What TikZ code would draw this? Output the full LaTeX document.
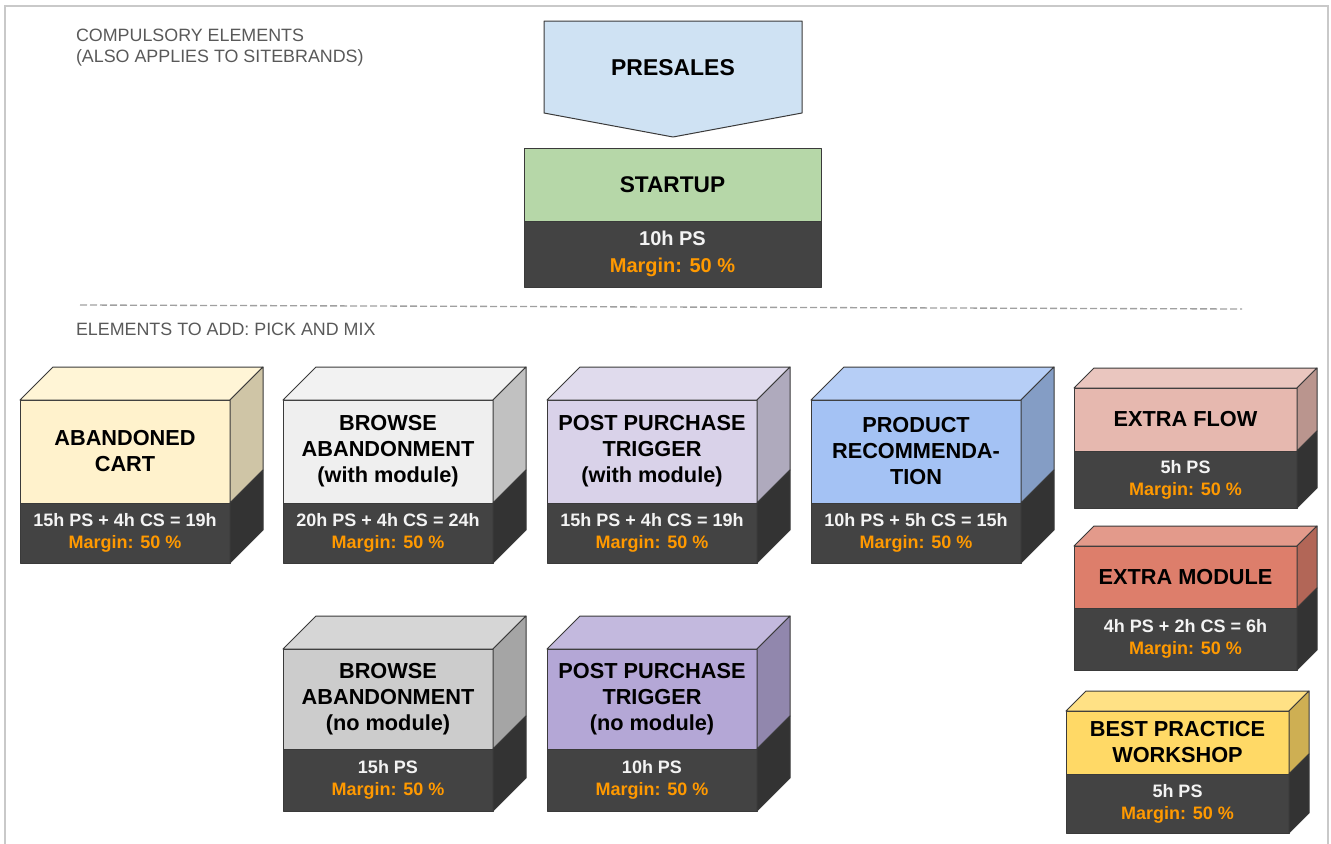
\documentclass[tikz,border=0pt]{standalone}
\usepackage{fontspec}
\setmainfont{Liberation Sans}
\usetikzlibrary{calc}

\definecolor{framegray}{HTML}{C9C9C9}
\definecolor{dashgray}{HTML}{A0A0A0}
\definecolor{headgray}{HTML}{595959}
\definecolor{edgegray}{HTML}{3A3A3A}
\definecolor{costdark}{HTML}{434343}
\definecolor{costside}{HTML}{333333}
\definecolor{costtext}{HTML}{F3F3F3}
\definecolor{marginorange}{HTML}{FF9900}
\definecolor{presalesblue}{HTML}{CFE2F3}
\definecolor{startupgreen}{HTML}{B6D7A8}
% cube faces: front, top, side
\definecolor{cartfront}{HTML}{FFF2CC}
\definecolor{carttop}{HTML}{FFF5D6}
\definecolor{cartside}{HTML}{CFC5A6}
\definecolor{browsemodfront}{HTML}{EFEFEF}
\definecolor{browsemodtop}{HTML}{F2F2F2}
\definecolor{browsemodside}{HTML}{C1C1C1}
\definecolor{postmodfront}{HTML}{D9D2E9}
\definecolor{postmodtop}{HTML}{E0DBED}
\definecolor{postmodside}{HTML}{AFAABD}
\definecolor{recomfront}{HTML}{A4C2F4}
\definecolor{recomtop}{HTML}{B6CEF6}
\definecolor{recomside}{HTML}{849DC5}
\definecolor{flowfront}{HTML}{E6B8AF}
\definecolor{flowtop}{HTML}{EAC6BF}
\definecolor{flowside}{HTML}{BA958E}
\definecolor{modulefront}{HTML}{DD7E6B}
\definecolor{moduletop}{HTML}{E39A8B}
\definecolor{moduleside}{HTML}{B26657}
\definecolor{workshopfront}{HTML}{FFD966}
\definecolor{workshoptop}{HTML}{FFE185}
\definecolor{workshopside}{HTML}{CEAF53}
\definecolor{browsefront}{HTML}{CCCCCC}
\definecolor{browsetop}{HTML}{D6D6D6}
\definecolor{browseside}{HTML}{A5A5A5}
\definecolor{postfront}{HTML}{B4A7D6}
\definecolor{posttop}{HTML}{C3B9DE}
\definecolor{postside}{HTML}{9187AD}

\tikzset{every picture/.style={line width=0.75pt}}
\tikzset{
  edge/.style={draw=edgegray, line width=0.75pt, line join=round},
  facebox/.style={edge, outer sep=0pt, inner sep=0pt, align=center, text=black,
    font=\bfseries\fontsize{16.3}{19.5}\selectfont},
  costbox/.style={edge, fill=costdark, outer sep=0pt, inner sep=0pt, align=center, text=costtext,
    font=\bfseries\fontsize{13.5}{16.5}\selectfont},
  headtext/.style={inner sep=0pt, outer sep=0pt, align=left, text=headgray,
    font=\fontsize{13.4}{15.75}\selectfont},
}

\newcommand{\margintext}{\textcolor{marginorange}{Margin: 50 \%}}
% #1 name, #2 left, #3 front top, #4 width, #5 face height, #6 cost height, #7 depth, #8 title, #9 hours
\newcommand{\cubebox}[9]{%
  \node[facebox, fill=#1front, minimum width=#4*0.75pt, minimum height=#5*0.75pt, anchor=north west] (#1) at (#2,#3) {#8};
  \node[costbox, minimum width=#4*0.75pt, minimum height=#6*0.75pt, anchor=north west] (#1cost) at (#1.south west) {#9\\\margintext};
  \draw[edge, fill=#1top] (#1.north west) -- ++(#7,-#7) -- ++(#4,0) -- (#1.north east) -- cycle;
  \draw[edge, fill=#1side] (#1.north east) -- ++(#7,-#7) -- ++(0,#5) -- (#1.south east) -- cycle;
  \draw[edge, fill=costside] (#1cost.north east) -- ++(#7,-#7) -- ++(0,#6) -- (#1cost.south east) -- cycle;
}

\begin{document}
\begin{tikzpicture}[x=0.75pt,y=0.75pt,yscale=-1,xscale=1]
\useasboundingbox (0,0) rectangle (1331,843);
%Frame
\draw[framegray, line width=1.5pt] (5,850) -- (5,6) -- (1328,6) -- (1328,850);

% Text Node
\node[headtext, anchor=north west] (compulsory) at (76,29) {COMPULSORY ELEMENTS\\(ALSO APPLIES TO SITEBRANDS)};

%Shape: Pentagon [presales]
\node[inner sep=0pt, outer sep=0pt, minimum width=258*0.75pt, minimum height=92*0.75pt, anchor=north west] (presales) at (544,21) {};
\draw[edge, fill=presalesblue] (presales.north west) -- (presales.north east) -- (presales.south east)
  -- ($(presales.south)+(0,24)$) -- (presales.south west) -- cycle;
\node[font=\bfseries\fontsize{17.2}{20}\selectfont] (presalestext) at ($(presales.center)+(0,1)$) {PRESALES};

%Shape: Rectangle [startup]
\node[facebox, fill=startupgreen, minimum width=297*0.75pt, minimum height=73*0.75pt, anchor=north west,
  font=\bfseries\fontsize{17}{20}\selectfont] (startup) at (524,148) {STARTUP};
\node[costbox, minimum width=297*0.75pt, minimum height=66*0.75pt, anchor=north west,
  font=\bfseries\fontsize{15}{20}\selectfont] (startupcost) at (startup.south west) {10h PS\\\margintext};

%Straight Lines [separator]
\draw[dashgray, line width=1pt, dash pattern=on 5.25pt off 2.25pt] (80,305) -- (1242,309);

% Text Node
\node[headtext, anchor=north west] (pickmix) at (76,323) {ELEMENTS TO ADD: PICK AND MIX};

%Shape: Cubes [row 1]
\cubebox{cart}{20}{400}{210}{103}{60}{33}{ABANDONED\\CART}{15h PS + 4h CS = 19h}
\cubebox{browsemod}{283}{400}{210}{103}{60}{33}{BROWSE\\ABANDONMENT\\(with module)}{20h PS + 4h CS = 24h}
\cubebox{postmod}{547}{400}{210}{103}{60}{33}{POST PURCHASE\\TRIGGER\\(with module)}{15h PS + 4h CS = 19h}
\cubebox{recom}{811}{400}{210}{103}{60}{33}{PRODUCT\\RECOMMENDA-\\TION}{10h PS + 5h CS = 15h}

%Shape: Cubes [row 2]
\cubebox{browse}{283}{649}{210}{100}{62}{33}{BROWSE\\ABANDONMENT\\(no module)}{15h PS}
\cubebox{post}{547}{649}{210}{100}{62}{33}{POST PURCHASE\\TRIGGER\\(no module)}{10h PS}

%Shape: Cubes [right column]
\cubebox{flow}{1074}{388}{223}{63}{57}{20}{EXTRA FLOW}{5h PS}
\cubebox{module}{1074}{546}{223}{62}{62}{20}{EXTRA MODULE}{4h PS + 2h CS = 6h}
\cubebox{workshop}{1066}{711}{223}{63}{59}{20}{BEST PRACTICE\\WORKSHOP}{5h PS}
\end{tikzpicture}
\end{document}
